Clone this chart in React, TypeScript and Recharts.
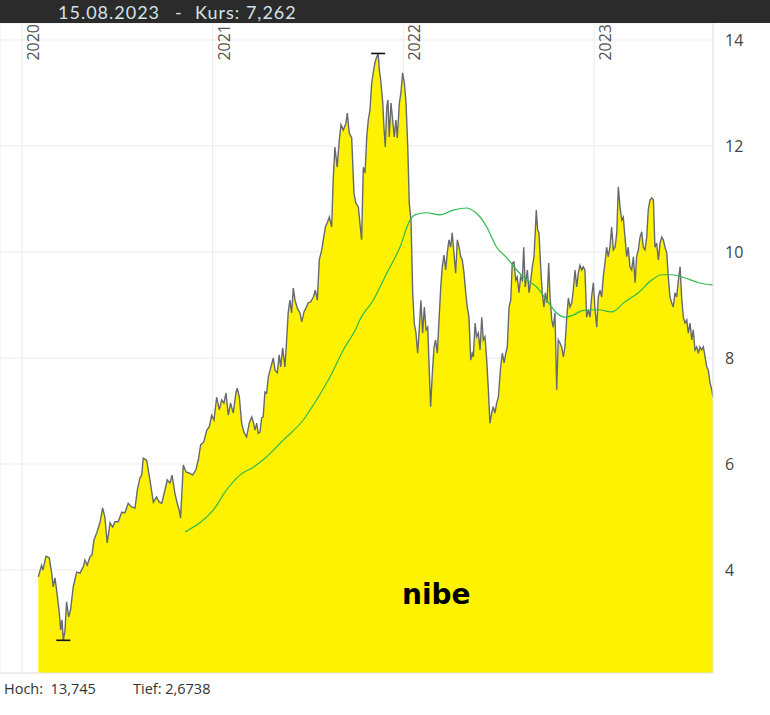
import React from 'react';
import {
  ComposedChart,
  Area,
  Line,
  XAxis,
  YAxis,
  CartesianGrid,
  ReferenceDot,
  ReferenceLine,
} from 'recharts';

// Dates as decimal years, closing prices
const priceDates = [
  2020.086, 2020.103, 2020.110, 2020.126, 2020.143, 2020.156, 2020.164, 2020.173, 2020.182, 2020.196,
  2020.203, 2020.210, 2020.217, 2020.226, 2020.234, 2020.245, 2020.255, 2020.269, 2020.287, 2020.304,
  2020.322, 2020.330, 2020.342, 2020.357, 2020.367, 2020.378, 2020.392, 2020.409, 2020.423, 2020.435,
  2020.447, 2020.462, 2020.476, 2020.488, 2020.505, 2020.523, 2020.540, 2020.557, 2020.575, 2020.593,
  2020.605, 2020.619, 2020.628, 2020.636, 2020.654, 2020.671, 2020.689, 2020.706, 2020.720, 2020.733,
  2020.750, 2020.762, 2020.776, 2020.787, 2020.802, 2020.814, 2020.825, 2020.832, 2020.846, 2020.860,
  2020.877, 2020.895, 2020.912, 2020.925, 2020.937, 2020.954, 2020.969, 2020.982, 2020.995, 2021.007,
  2021.021, 2021.035, 2021.047, 2021.059, 2021.070, 2021.082, 2021.094, 2021.108, 2021.122, 2021.129,
  2021.140, 2021.152, 2021.164, 2021.178, 2021.192, 2021.205, 2021.213, 2021.222, 2021.231, 2021.239,
  2021.248, 2021.257, 2021.265, 2021.274, 2021.283, 2021.292, 2021.304, 2021.318, 2021.327, 2021.339,
  2021.349, 2021.357, 2021.367, 2021.379, 2021.388, 2021.396, 2021.405, 2021.414, 2021.423, 2021.432,
  2021.444, 2021.458, 2021.467, 2021.479, 2021.489, 2021.501, 2021.514, 2021.528, 2021.538, 2021.549,
  2021.559, 2021.572, 2021.580, 2021.591, 2021.601, 2021.612, 2021.624, 2021.632, 2021.641, 2021.653,
  2021.664, 2021.673, 2021.685, 2021.699, 2021.706, 2021.716, 2021.729, 2021.741, 2021.751, 2021.764,
  2021.772, 2021.781, 2021.790, 2021.799, 2021.808, 2021.816, 2021.825, 2021.834, 2021.842, 2021.851,
  2021.860, 2021.868, 2021.874, 2021.881, 2021.892, 2021.898, 2021.905, 2021.913, 2021.919, 2021.926,
  2021.935, 2021.944, 2021.952, 2021.961, 2021.968, 2021.979, 2021.987, 2021.996, 2022.005, 2022.014,
  2022.023, 2022.031, 2022.040, 2022.049, 2022.057, 2022.066, 2022.075, 2022.083, 2022.092, 2022.101,
  2022.110, 2022.119, 2022.128, 2022.136, 2022.143, 2022.152, 2022.161, 2022.169, 2022.178, 2022.187,
  2022.196, 2022.204, 2022.213, 2022.222, 2022.230, 2022.239, 2022.248, 2022.256, 2022.265, 2022.274,
  2022.283, 2022.292, 2022.301, 2022.309, 2022.318, 2022.327, 2022.335, 2022.344, 2022.353, 2022.361,
  2022.367, 2022.376, 2022.384, 2022.393, 2022.402, 2022.411, 2022.419, 2022.428, 2022.437, 2022.445,
  2022.454, 2022.463, 2022.471, 2022.480, 2022.489, 2022.498, 2022.510, 2022.519, 2022.528, 2022.537,
  2022.545, 2022.554, 2022.563, 2022.571, 2022.580, 2022.589, 2022.597, 2022.606, 2022.615, 2022.624,
  2022.631, 2022.639, 2022.650, 2022.659, 2022.668, 2022.676, 2022.685, 2022.692, 2022.697, 2022.704,
  2022.711, 2022.720, 2022.728, 2022.737, 2022.744, 2022.753, 2022.762, 2022.769, 2022.778, 2022.786,
  2022.795, 2022.804, 2022.812, 2022.821, 2022.830, 2022.839, 2022.847, 2022.856, 2022.865, 2022.874,
  2022.883, 2022.891, 2022.900, 2022.909, 2022.917, 2022.926, 2022.935, 2022.943, 2022.952, 2022.961,
  2022.970, 2022.979, 2022.987, 2022.996, 2023.005, 2023.014, 2023.022, 2023.031, 2023.040, 2023.048,
  2023.057, 2023.066, 2023.074, 2023.083, 2023.092, 2023.101, 2023.110, 2023.119, 2023.127, 2023.136,
  2023.145, 2023.153, 2023.162, 2023.171, 2023.179, 2023.188, 2023.197, 2023.206, 2023.215, 2023.223,
  2023.232, 2023.241, 2023.250, 2023.258, 2023.267, 2023.276, 2023.284, 2023.293, 2023.302, 2023.311,
  2023.319, 2023.328, 2023.337, 2023.346, 2023.355, 2023.363, 2023.372, 2023.381, 2023.389, 2023.398,
  2023.407, 2023.415, 2023.424, 2023.433, 2023.442, 2023.451, 2023.459, 2023.468, 2023.477, 2023.486,
  2023.494, 2023.503, 2023.512, 2023.520, 2023.529, 2023.538, 2023.547, 2023.555, 2023.564, 2023.573,
  2023.582, 2023.591, 2023.599, 2023.608, 2023.617, 2023.624,
];

const priceValues = [
  3.87, 4.09, 4.00, 4.26, 4.23, 3.94, 3.68, 3.85, 3.62, 3.19,
  2.87, 3.06, 2.6738, 2.87, 3.40, 3.11, 3.25, 3.68, 3.96, 3.94,
  4.06, 4.19, 4.09, 4.25, 4.28, 4.57, 4.70, 4.89, 5.17, 5.00,
  4.51, 4.89, 4.81, 4.91, 4.91, 5.09, 5.08, 5.26, 5.19, 5.17,
  5.51, 5.74, 5.79, 6.11, 6.07, 5.70, 5.28, 5.38, 5.28, 5.26,
  5.51, 5.70, 5.64, 5.79, 5.45, 5.26, 5.13, 4.98, 5.98, 5.85,
  5.83, 5.79, 5.89, 6.08, 6.36, 6.42, 6.64, 6.70, 6.92, 6.83,
  7.26, 7.02, 7.21, 7.15, 7.34, 6.92, 7.15, 6.96, 7.34, 7.43,
  7.26, 6.77, 6.60, 6.51, 6.77, 6.89, 6.79, 6.64, 6.77, 6.58,
  6.60, 6.87, 6.89, 7.36, 7.34, 7.64, 7.81, 8.00, 7.77, 7.72,
  8.06, 7.83, 8.19, 7.83, 8.34, 8.85, 9.09, 8.85, 9.32, 9.09,
  8.94, 8.85, 8.68, 8.87, 8.94, 9.04, 9.06, 9.15, 9.28, 9.09,
  9.85, 10.04, 10.23, 10.47, 10.55, 10.66, 10.47, 11.36, 11.98, 11.60,
  12.11, 12.40, 12.30, 12.43, 12.62, 12.25, 12.15, 11.11, 10.92, 10.85,
  10.55, 10.23, 11.60, 11.49, 12.17, 12.49, 12.68, 13.19, 13.38, 13.57,
  13.68, 13.745, 13.43, 13.25, 12.81, 12.36, 11.98, 12.74, 12.87, 12.17,
  12.81, 12.49, 12.17, 12.49, 12.15, 12.81, 13.00, 13.38, 13.19, 12.81,
  11.98, 10.92, 10.60, 9.23, 8.66, 8.47, 8.09, 8.53, 9.09, 8.47,
  8.96, 8.53, 8.58, 7.72, 7.08, 7.72, 8.21, 8.34, 8.09, 8.72,
  9.34, 9.72, 9.94, 9.66, 9.98, 10.23, 10.09, 10.36, 9.98, 9.60,
  10.23, 10.09, 9.91, 9.85, 9.60, 9.23, 8.96, 8.77, 7.96, 8.09,
  8.02, 8.66, 8.40, 8.47, 8.15, 8.77, 8.34, 8.40, 7.96, 7.45,
  6.77, 6.96, 7.08, 6.96, 7.15, 7.26, 7.83, 8.09, 7.91, 8.09,
  8.21, 8.96, 9.09, 9.79, 9.81, 9.47, 9.53, 9.23, 9.53, 9.47,
  10.09, 9.34, 9.66, 9.23, 9.47, 9.72, 9.91, 10.42, 10.79, 10.42,
  10.36, 9.72, 9.23, 8.96, 9.23, 9.04, 9.79, 9.15, 8.72, 8.58,
  8.85, 7.40, 8.34, 8.28, 8.21, 8.02, 8.21, 8.72, 9.13, 8.96,
  9.04, 9.28, 9.66, 9.34, 9.60, 9.75, 9.66, 9.72, 9.66, 8.77,
  8.91, 8.77, 9.15, 9.42, 8.91, 8.58, 9.15, 9.28, 9.15, 9.53,
  9.79, 10.09, 9.91, 10.09, 10.47, 10.04, 10.09, 10.36, 11.23, 10.85,
  10.60, 10.66, 10.28, 9.91, 10.09, 9.72, 9.66, 9.91, 9.42, 9.91,
  10.04, 10.28, 10.38, 10.09, 10.04, 10.28, 10.79, 10.98, 11.02, 10.98,
  10.09, 10.17, 9.85, 10.17, 10.28, 10.23, 10.09, 9.98, 9.53, 9.15,
  9.04, 8.96, 9.23, 9.15, 9.47, 9.72, 9.15, 8.77, 8.66, 8.72,
  8.47, 8.66, 8.34, 8.53, 8.15, 8.21, 8.09, 8.21, 8.15, 8.21,
  8.02, 7.83, 7.77, 7.53, 7.40, 7.262,
];

// 200-day moving average
const maDates = [
  2020.855, 2020.933, 2021.003, 2021.073, 2021.143, 2021.213, 2021.265, 2021.370, 2021.475, 2021.545,
  2021.615, 2021.685, 2021.755, 2021.772, 2021.842, 2021.913, 2021.982, 2022.035, 2022.061, 2022.122,
  2022.192, 2022.262, 2022.332, 2022.376, 2022.402, 2022.437, 2022.489, 2022.542, 2022.594, 2022.647,
  2022.699, 2022.751, 2022.804, 2022.847, 2022.891, 2022.943, 2023.022, 2023.092, 2023.162, 2023.232,
  2023.302, 2023.355, 2023.407, 2023.477, 2023.547, 2023.624,
];
const maValues = [
  4.72, 4.89, 5.13, 5.51, 5.79, 5.94, 6.08, 6.45, 6.83, 7.21,
  7.64, 8.15, 8.58, 8.72, 9.09, 9.60, 10.09, 10.60, 10.70, 10.74,
  10.70, 10.79, 10.83, 10.75, 10.66, 10.47, 10.09, 9.89, 9.66, 9.47,
  9.34, 9.09, 8.85, 8.77, 8.81, 8.90, 8.91, 8.87, 9.06, 9.23,
  9.47, 9.57, 9.57, 9.51, 9.42, 9.38,
];

const yearTicks = [2020, 2021, 2022, 2023];
const priceTicks = [4, 6, 8, 10, 12, 14];
const xDomain = [2019.885, 2023.6235];
const yDomain = [2.057, 14.32];
const high = { date: 2021.868, value: 13.745, label: '13,745' };
const low = { date: 2020.217, value: 2.6738, label: '2,6738' };
const headerDate = '15.08.2023';
const headerKurs = 'Kurs: 7,262';
const stockName = 'nibe';

const n = Math.min(priceDates.length, priceValues.length);
const priceData = priceDates.slice(0, n).map((t, i) => ({ t, price: priceValues[i] }));
const m = Math.min(maDates.length, maValues.length);
const maData = maDates.slice(0, m).map((t, i) => ({ t, ma: maValues[i] }));

const YearTick = (props: any) => {
  const { x, payload } = props;
  return (
    <text
      transform={`translate(${x + 17},24) rotate(-90)`}
      textAnchor="end"
      fontSize={16}
      fill="#555"
      fontFamily="'Open Sans', sans-serif"
    >
      {payload.value}
    </text>
  );
};

const Cap = (props: any) => {
  const { cx, cy } = props;
  if (cx == null || cy == null) return null;
  return (
    <line x1={cx - 7} x2={cx + 7} y1={cy} y2={cy} stroke="#111" strokeWidth={1.6} />
  );
};

const headerStyle = { letterSpacing: '1px' };

export default function App() {
  return (
    <div style={{ position: 'absolute', left: 0, top: 0, width: 770, height: 715, background: '#fff' }}>
      <ComposedChart
        width={770}
        height={715}
        margin={{ top: 22, right: 0, left: 0, bottom: 42 }}
      >
        <CartesianGrid stroke="#ebebeb" strokeWidth={1} />
        <XAxis
          dataKey="t"
          type="number"
          orientation="top"
          height={1}
          domain={xDomain}
          ticks={yearTicks}
          allowDataOverflow
          axisLine={false}
          tickLine={false}
          tick={<YearTick />}
          interval={0}
        />
        <YAxis
          orientation="right"
          width={57}
          type="number"
          domain={yDomain}
          ticks={priceTicks}
          allowDataOverflow
          axisLine={{ stroke: '#e8e8e8' }}
          tickLine={false}
          tickMargin={6}
          tick={{ fontSize: 16, fill: '#444', fontFamily: "'Open Sans', sans-serif" }}
        />
        <ReferenceLine y={yDomain[0]} stroke="#e4e4e4" />
        <Area
          data={priceData}
          dataKey="price"
          type="linear"
          fill="#fff200"
          fillOpacity={1}
          stroke="#666a70"
          strokeWidth={1.4}
          baseValue="dataMin"
          dot={false}
          activeDot={false}
          isAnimationActive={false}
        />
        <Line
          data={maData}
          dataKey="ma"
          type="monotone"
          stroke="#2dbb4f"
          strokeWidth={1.2}
          dot={false}
          activeDot={false}
          isAnimationActive={false}
        />
        <ReferenceDot x={high.date} y={high.value} r={0} shape={<Cap />} />
        <ReferenceDot x={low.date} y={low.value} r={0} shape={<Cap />} />
      </ComposedChart>
      <svg
        width={770}
        height={715}
        style={{ position: 'absolute', left: 0, top: 0, pointerEvents: 'none' }}
      >
        <rect x={0} y={0} width={770} height={23} fill="#2b2b2b" />
        <text x={58} y={18.5} fontFamily="Lato, sans-serif" fontSize={18} fill="#d3e2e8" style={headerStyle}>
          {headerDate}
        </text>
        <text x={175} y={18.5} fontFamily="Lato, sans-serif" fontSize={18} fill="#d3e2e8">
          -
        </text>
        <text x={195} y={18.5} fontFamily="Lato, sans-serif" fontSize={18} fill="#d3e2e8" style={headerStyle}>
          {headerKurs}
        </text>
        <text x={402} y={604} fontFamily="'DejaVu Sans', sans-serif" fontWeight="bold" fontSize={28} fill="#000">
          {stockName}
        </text>
        <text x={4} y={694} fontFamily="'Open Sans', sans-serif" fontSize={14.5} fill="#333" style={{ whiteSpace: 'pre' }}>
          {`Hoch:  ${high.label}`}
        </text>
        <text x={133} y={694} fontFamily="'Open Sans', sans-serif" fontSize={14.5} fill="#333" style={{ whiteSpace: 'pre' }}>
          {`Tief: ${low.label}`}
        </text>
      </svg>
    </div>
  );
}
